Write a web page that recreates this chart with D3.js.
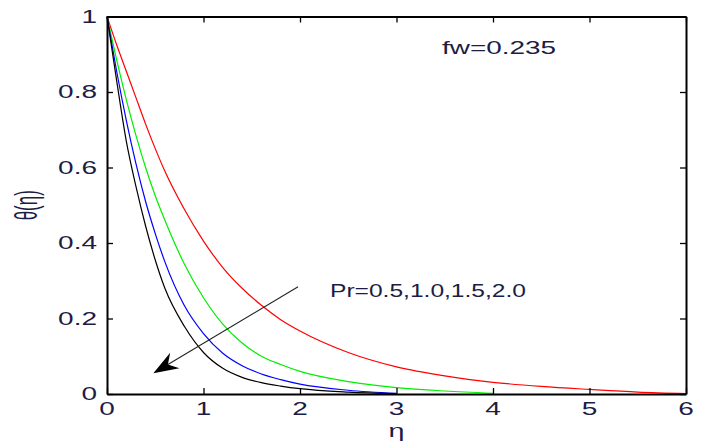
<!DOCTYPE html>
<html lang="en">
<head>
<meta charset="utf-8">
<script src="https://d3js.org/d3.v7.min.js"></script>
<style type="text/css">
body {
	margin: 0;
	background: #ffffff;
}
text {
	font-family: "Liberation Sans", Arial, sans-serif;
	fill: #1c1c44;
}
</style>
</head>
<body>
<script type="text/javascript">

// eta grid and theta(eta) for each Prandtl number
var eta = [0, 0.1, 0.2, 0.3, 0.4, 0.5, 0.6, 0.8, 1.0, 1.2, 1.4, 1.6, 1.8, 2.0, 2.5, 3.0, 3.5, 4.0, 4.5, 5.0, 5.5, 6.0];
var thetaPr05 = [1, 0.925, 0.855, 0.785, 0.715, 0.65, 0.59, 0.49, 0.405, 0.335, 0.28, 0.235, 0.197, 0.167, 0.11, 0.072, 0.048, 0.031, 0.02, 0.012, 0.005, 0.001];
var thetaPr10 = [1, 0.885, 0.78, 0.685, 0.6, 0.525, 0.46, 0.345, 0.255, 0.185, 0.135, 0.1, 0.078, 0.06, 0.033, 0.017, 0.008, 0.002, null, null, null, null];
var thetaPr15 = [1, 0.855, 0.725, 0.61, 0.51, 0.425, 0.35, 0.235, 0.16, 0.108, 0.075, 0.053, 0.038, 0.026, 0.01, 0.002, null, null, null, null, null, null];
var thetaPr20 = [1, 0.83, 0.67, 0.55, 0.445, 0.355, 0.28, 0.18, 0.11, 0.068, 0.044, 0.03, 0.021, 0.014, 0.005, 0.001, null, null, null, null, null, null];
var seriesColors = ["#ff0000", "#00ee00", "#0000ff", "#000000"];

var xTicks = [0, 1, 2, 3, 4, 5, 6];
var yTicks = [0, 0.2, 0.4, 0.6, 0.8, 1];
var yTickLabels = ["0", "0.2", "0.4", "0.6", "0.8", "1"];

// annotation arrow, in data units
var arrowFrom = [1.98, 0.284];
var arrowTo = [0.48, 0.055];

var width = 708;
var height = 446;
var plot = {left: 107, right: 686, top: 16.5, bottom: 394};
var stretch = 1.6; // the source figure is stretched sideways

var x = d3.scaleLinear().domain([0, 6]).range([plot.left, plot.right]);
var y = d3.scaleLinear().domain([0, 1]).range([plot.bottom, plot.top]);

var svg = d3.select("body")
	.append("svg")
	.attr("width", width)
	.attr("height", height);

// curves
var series = [thetaPr05, thetaPr10, thetaPr15, thetaPr20];
var line = d3.line()
	.defined(function(d) { return d[1] !== null; })
	.x(function(d) { return x(d[0]); })
	.y(function(d) { return y(d[1]); })
	.curve(d3.curveMonotoneX);

svg.selectAll("path.curve")
	.data(series)
	.enter()
	.append("path")
	.attr("class", "curve")
	.attr("d", function(s) { return line(eta.map(function(e, i) { return [e, s[i]]; })); })
	.style("fill", "none")
	.style("stroke", function(s, i) { return seriesColors[i]; })
	.style("stroke-width", 1.2);

// axes, ticks pointing inward on all four sides
var axisStyle = function(g) {
	g.selectAll("path").style("stroke", "#000").style("stroke-width", 2);
	g.selectAll("line").style("stroke", "#000").style("stroke-width", 1.3);
	g.selectAll("text").remove();
};
svg.append("g").attr("transform", "translate(0," + plot.bottom + ")")
	.call(d3.axisBottom(x).tickValues(xTicks).tickSizeInner(-6).tickSizeOuter(0)).call(axisStyle);
svg.append("g").attr("transform", "translate(0," + plot.top + ")")
	.call(d3.axisTop(x).tickValues(xTicks).tickSizeInner(-6).tickSizeOuter(0)).call(axisStyle);
svg.append("g").attr("transform", "translate(" + plot.left + ",0)")
	.call(d3.axisLeft(y).tickValues(yTicks).tickSizeInner(-6).tickSizeOuter(0)).call(axisStyle);
svg.append("g").attr("transform", "translate(" + plot.right + ",0)")
	.call(d3.axisRight(y).tickValues(yTicks).tickSizeInner(-6).tickSizeOuter(0)).call(axisStyle);

// tick labels
svg.selectAll("text.xtick")
	.data(xTicks)
	.enter()
	.append("text")
	.attr("class", "xtick")
	.attr("transform", function(d) { return "translate(" + x(d) + ",415) scale(" + stretch + ",1)"; })
	.attr("text-anchor", "middle")
	.style("font-size", "17.5px")
	.text(function(d) { return d; });

svg.selectAll("text.ytick")
	.data(yTicks)
	.enter()
	.append("text")
	.attr("class", "ytick")
	.attr("transform", function(d) { return "translate(97," + (y(d) + 6) + ") scale(" + stretch + ",1)"; })
	.attr("text-anchor", "end")
	.style("font-size", "17.5px")
	.text(function(d, i) { return yTickLabels[i]; });

// axis titles
svg.append("text")
	.attr("transform", "translate(" + ((plot.left + plot.right) / 2) + ",437) scale(" + stretch + ",1)")
	.attr("text-anchor", "middle")
	.style("font-size", "18px")
	.text("η");

svg.append("text")
	.attr("transform", "translate(37," + ((plot.top + plot.bottom) / 2) + ") scale(1.9,1) rotate(-90)")
	.attr("text-anchor", "middle")
	.style("font-size", "17px")
	.text("θ(η)");

// annotations
svg.append("text")
	.attr("x", 442)
	.attr("y", 54)
	.attr("textLength", 114)
	.attr("lengthAdjust", "spacingAndGlyphs")
	.style("font-size", "18px")
	.text("fw=0.235");

svg.append("text")
	.attr("x", 330)
	.attr("y", 297)
	.attr("textLength", 196)
	.attr("lengthAdjust", "spacingAndGlyphs")
	.style("font-size", "18px")
	.text("Pr=0.5,1.0,1.5,2.0");

// arrow
var p0 = [x(arrowFrom[0]), y(arrowFrom[1])];
var p1 = [x(arrowTo[0]), y(arrowTo[1])];
var len = Math.hypot(p0[0] - p1[0], p0[1] - p1[1]);
var ux = (p0[0] - p1[0]) / len, uy = (p0[1] - p1[1]) / len;
var headL = 25, headW = 9, notch = 17;

svg.append("line")
	.attr("x1", p0[0]).attr("y1", p0[1])
	.attr("x2", p1[0] + ux * notch).attr("y2", p1[1] + uy * notch)
	.style("stroke", "#222")
	.style("stroke-width", 1.1);

svg.append("path")
	.attr("d", "M" + p1[0] + "," + p1[1] +
		"L" + (p1[0] + ux * headL - uy * headW) + "," + (p1[1] + uy * headL + ux * headW) +
		"L" + (p1[0] + ux * notch) + "," + (p1[1] + uy * notch) +
		"L" + (p1[0] + ux * headL + uy * headW) + "," + (p1[1] + uy * headL - ux * headW) + "Z")
	.style("fill", "#000");

</script>
</body>
</html>
